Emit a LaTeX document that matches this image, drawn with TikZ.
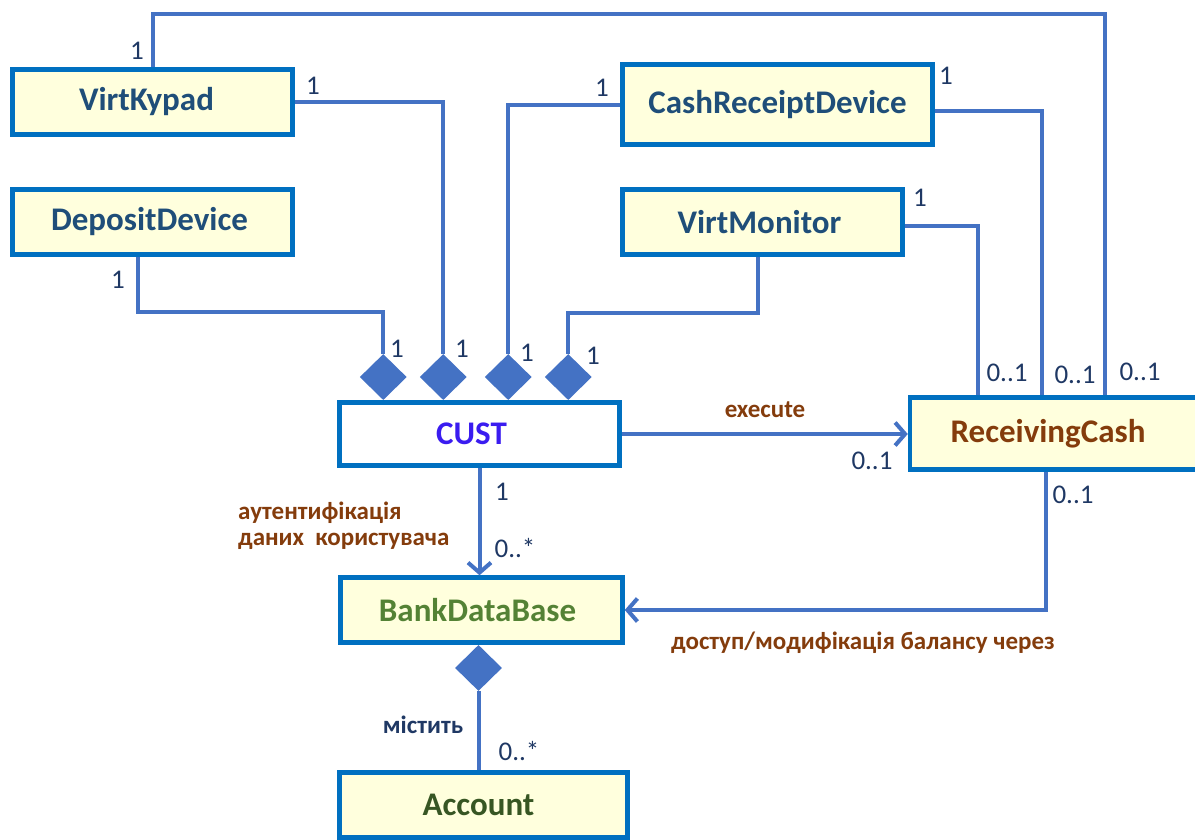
\documentclass[tikz,border=0pt]{standalone}
\usepackage{fontspec}
\setmainfont{Carlito}
\usetikzlibrary{shapes.geometric,arrows.meta}

\definecolor{boxblue}{HTML}{0070C0}
\definecolor{linkblue}{HTML}{4472C4}
\definecolor{paper}{HTML}{FFFFDD}
\definecolor{classtext}{HTML}{1F4E79}
\definecolor{multtext}{HTML}{1F3864}
\definecolor{roletext}{HTML}{843C0C}
\definecolor{custtext}{HTML}{3A1CF0}
\definecolor{dbtext}{HTML}{548235}
\definecolor{acctext}{HTML}{375623}

\tikzset{
  classbox/.style={draw=boxblue, line width=4.5pt, fill=paper, inner sep=0pt,
    font=\fontsize{33}{38}\selectfont\bfseries, text=classtext},
  link/.style={draw=linkblue, line width=4pt},
  navarrow/.style={-{Straight Barb[length=10pt,width=23pt,line width=4pt]}},
  agg/.style={diamond, fill=linkblue, inner sep=0pt, minimum width=47pt,
    minimum height=46pt, anchor=south},
  mult/.style={font=\fontsize{27}{30}\selectfont, text=multtext, inner sep=0pt},
  role/.style={font=\fontsize{25}{26}\selectfont\bfseries, text=roletext, inner sep=0pt},
}

\begin{document}
\begin{tikzpicture}[x=1pt,y=-1pt]
\useasboundingbox (0,0) rectangle (1195,839);
\clip (0,0) rectangle (1195,839);

% classes
\node[classbox, minimum width=280pt, minimum height=65pt] (vk)  at (152.5,102) {\hspace*{-12pt}VirtKypad};
\node[classbox, minimum width=280pt, minimum height=65pt] (dd)  at (152.5,222) {\hspace*{-6pt}DepositDevice};
\node[classbox, minimum width=310pt, minimum height=80pt] (crd) at (777.5,104.5) {\raisebox{6pt}{CashReceiptDevice}};
\node[classbox, minimum width=280pt, minimum height=65pt] (vm)  at (762.5,222) {\hspace*{-6pt}VirtMonitor};
\node[classbox, fill=white, text=custtext, minimum width=280pt, minimum height=63pt] (cust) at (479.5,434) {\hspace*{-16pt}CUST};
\node[classbox, text=roletext, minimum width=288pt, minimum height=72pt] (rc) at (1054,433.5) {\hspace*{-12pt}ReceivingCash};
\node[classbox, text=dbtext, minimum width=282pt, minimum height=65pt] (bdb) at (481.5,610) {\hspace*{-8pt}BankDataBase};
\node[classbox, text=acctext, minimum width=288pt, minimum height=65pt] (acc) at (483.5,805) {\hspace*{-10pt}Account};

% composition diamonds on CUST
\node[agg] (d1) at ([xshift=46pt]cust.north west) {};
\node[agg] (d2) at ([xshift=106pt]cust.north west) {};
\node[agg] (d3) at ([xshift=171pt]cust.north west) {};
\node[agg] (d4) at ([xshift=231pt]cust.north west) {};
% composition diamond on BankDataBase
\node[agg, anchor=north] (d5) at ([xshift=-3pt]bdb.south) {};

% connectors
\draw[link] (vk.north) -- ++(0,-53) -| ([xshift=197pt]rc.north west);
\draw[link] (vk.east) -| (d2.north);
\draw[link] ([xshift=-15pt]dd.south) -- ++(0,55) -| (d1.north);
\draw[link] (crd.west) -| (d3.north);
\draw[link] ([xshift=-5pt]vm.south) -- ++(0,56) -| (d4.north);
\draw[link] ([yshift=-6pt]crd.east) -| ([xshift=134pt]rc.north west);
\draw[link] ([yshift=-4pt]vm.east) -| ([xshift=70pt]rc.north west);
\draw[link, navarrow] (cust.east) -- (cust.east -| rc.west);
\draw[link, navarrow] (cust.south) -- (cust.south |- bdb.north);
\draw[link, navarrow] ([xshift=138pt]rc.south west) |- (bdb.east);
\draw[link] (d5.south) -- (d5.south |- acc.north);

% multiplicities
\node[mult] (m1)  at (137,51)   {1};
\node[mult] (m2)  at (313,86)   {1};
\node[mult] (m3)  at (118,280)  {1};
\node[mult] (m4)  at (397,349)  {1};
\node[mult] (m5)  at (462,349)  {1};
\node[mult] (m6)  at (527,353)  {1};
\node[mult] (m7)  at (593,356)  {1};
\node[mult] (m8)  at (602,88)   {1};
\node[mult] (m9)  at (946,76)   {1};
\node[mult] (m10) at (920,198)  {1};
\node[mult] (m11) at (1007,373) {0..1};
\node[mult] (m12) at (1075,375) {0..1};
\node[mult] (m13) at (1140,372) {0..1};
\node[mult] (m14) at (872,461)  {0..1};
\node[mult] (m15) at (1073,495) {0..1};
\node[mult] (m16) at (502,492)  {1};
\node[mult] (m17) at (515,548)  {0..*};
\node[mult] (m18) at (519,751)  {0..*};

% association roles
\node[role] (r1) at (765,410) {execute};
\node[role, align=left, anchor=west] (r2) at (238,526) {аутентифікація\\даних\ \ користувача};
\node[role] (r3) at (863,643) {доступ/модифікація балансу через};
\node[role, text=multtext] (r4) at (423,725) {містить};
\end{tikzpicture}
\end{document}
